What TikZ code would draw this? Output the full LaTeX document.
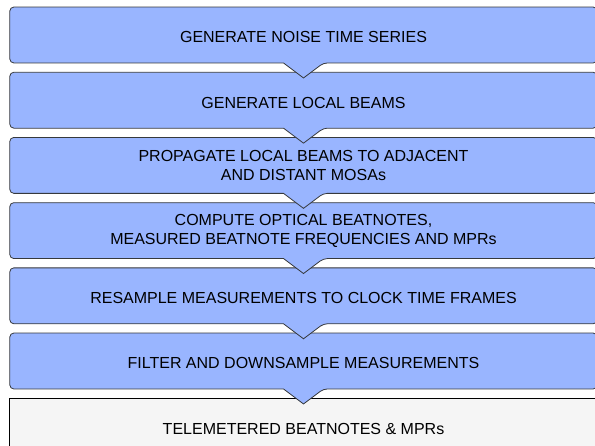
\documentclass[tikz,border=0pt]{standalone}
\usepackage{fontspec}
\setmainfont{Liberation Sans}
\usetikzlibrary{positioning,backgrounds}
\definecolor{stagefill}{RGB}{153,181,255}
\definecolor{stageline}{RGB}{54,57,61}
\definecolor{outfill}{RGB}{245,245,245}

\begin{document}
\begin{tikzpicture}[x=1pt,y=1pt,
    stage/.style={minimum width=587pt, minimum height=55.5pt, inner sep=0pt,
      align=center, font=\fontsize{16}{19}\selectfont},
    oneline/.style={text height=15.9pt, text depth=0pt},
    stagebox/.style={fill=stagefill, draw=stageline, line width=0.8pt},
    outbox/.style={fill=outfill, draw=black, line width=1pt},
    node distance=9.3pt]
      \useasboundingbox (0,0) rectangle (595,-445);

      % Processing steps, top to bottom
      \node[stage, oneline] (noise) at (303.5,-35) {GENERATE NOISE TIME SERIES};
      \node[stage, oneline, below=of noise] (beams) {GENERATE LOCAL BEAMS};
      \node[stage, below=of beams] (propagate) {PROPAGATE LOCAL BEAMS TO ADJACENT\\AND DISTANT MOSAs};
      \node[stage, below=of propagate] (beatnotes) {COMPUTE OPTICAL BEATNOTES,\\MEASURED BEATNOTE FREQUENCIES AND MPRs};
      \node[stage, oneline, below=of beatnotes] (resample) {RESAMPLE MEASUREMENTS TO CLOCK TIME FRAMES};
      \node[stage, oneline, below=of resample] (filter) {FILTER AND DOWNSAMPLE MEASUREMENTS};
      \node[stage, oneline, below=of filter] (telemetry) {TELEMETERED BEATNOTES \& MPRs};

      % Draw the boxes from the bottom up, so each notch lies over the next box
      \begin{scope}[on background layer]
        \draw[outbox] (telemetry.south west) rectangle (telemetry.north east);
        \foreach \s in {filter,resample,beatnotes,propagate,beams,noise}
          \draw[stagebox] (\s.south west) [rounded corners=4pt] -- (\s.north west) -- (\s.north east)
            -- (\s.south east) -- ([xshift=20pt]\s.south) [sharp corners] -- ([yshift=-15pt]\s.south)
            -- ([xshift=-20pt]\s.south) [rounded corners=4pt] -- cycle;
      \end{scope}
\end{tikzpicture}
\end{document}
